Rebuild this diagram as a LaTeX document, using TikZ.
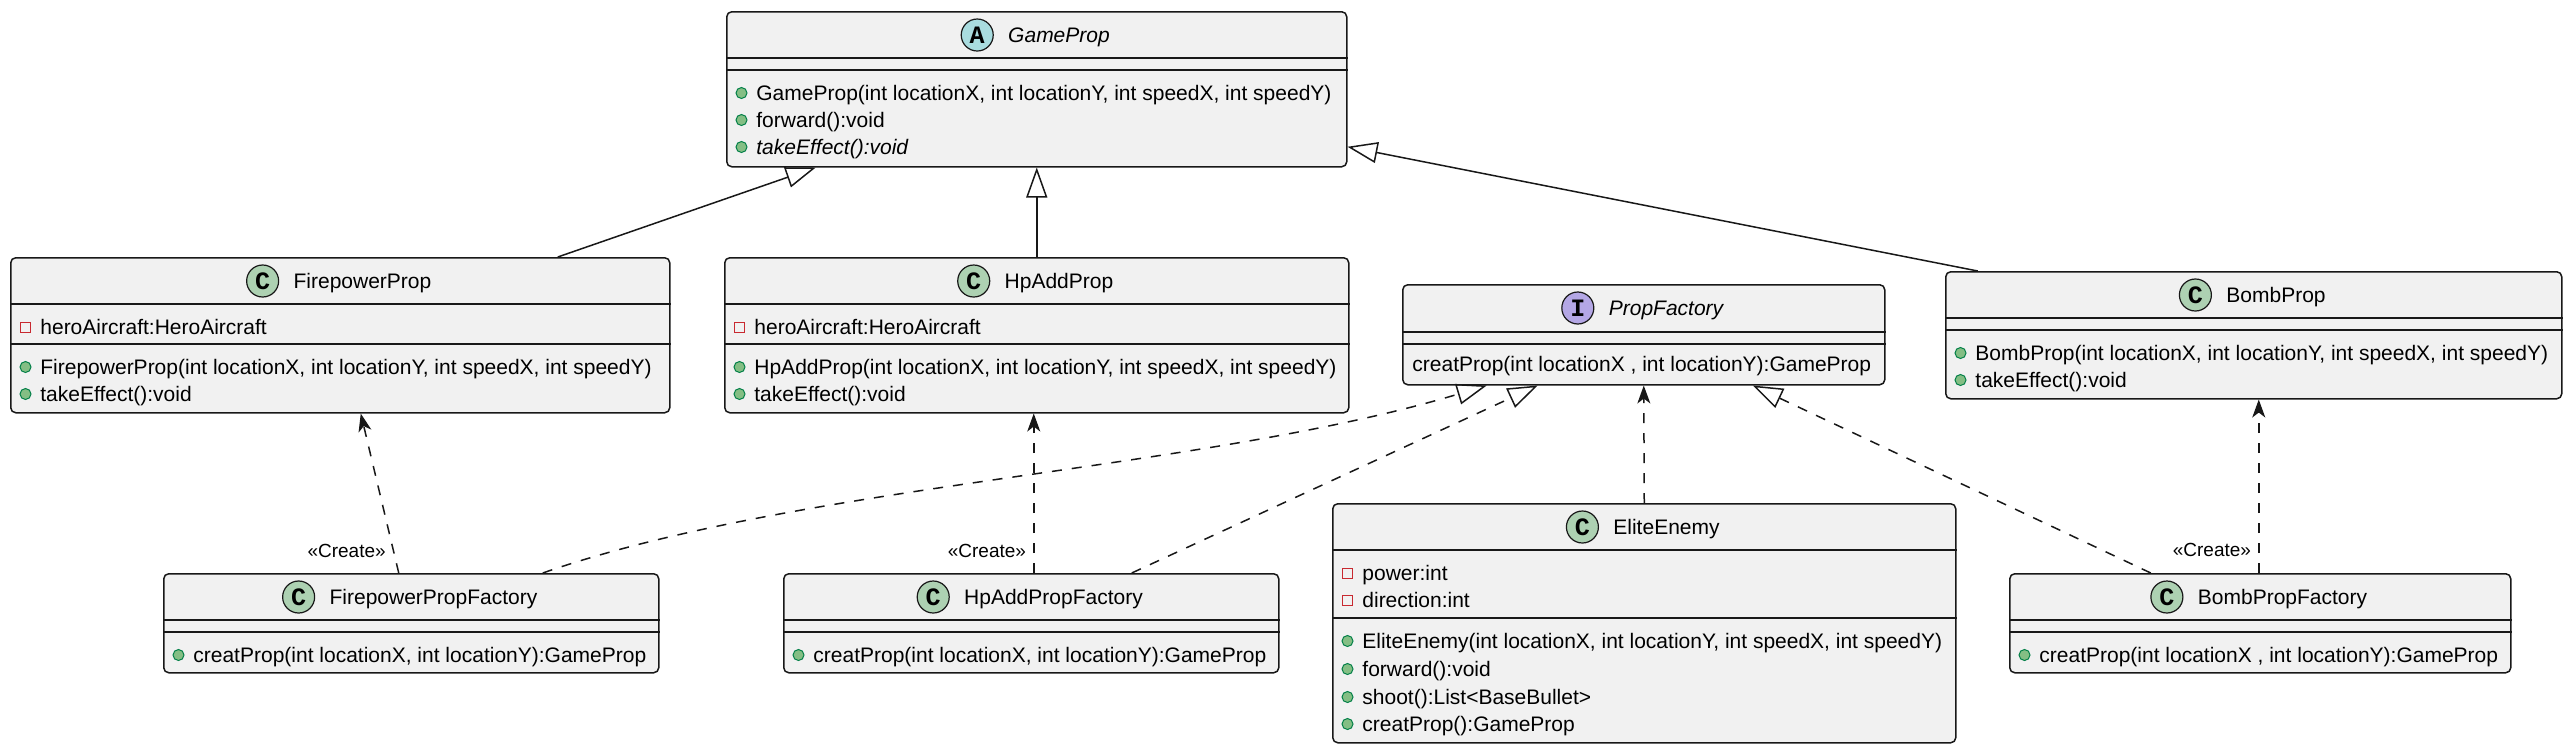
\documentclass[tikz,border=0pt]{standalone}
\usepackage{fontspec}
\setmainfont{Liberation Sans}
\newfontfamily\badgefont{Liberation Mono}
\usetikzlibrary{positioning,arrows.meta}
\definecolor{boxfill}{HTML}{F1F1F1}
\definecolor{boxline}{HTML}{181818}
\definecolor{classfill}{HTML}{ADD1B2}
\definecolor{absfill}{HTML}{A9DCDF}
\definecolor{ifacefill}{HTML}{B4A7E5}
\definecolor{privline}{HTML}{C82930}
\definecolor{publine}{HTML}{038048}
\definecolor{pubfill}{HTML}{84BE84}

\begin{document}
\begin{tikzpicture}[x=0.5pt,y=-0.5pt,
  classbox/.style={draw=boxline,fill=boxfill,line width=0.75pt,rounded corners=2.5pt,inner sep=0pt,anchor=north west},
  sepline/.style={draw=boxline,line width=0.75pt},
  title/.style={font=\fontsize{10.5}{12}\selectfont,inner sep=0pt,text height=7.5pt,text depth=0pt},
  badge/.style={circle,draw=boxline,line width=0.6pt,minimum size=16pt,inner sep=0pt,font=\badgefont\bfseries\fontsize{12.5}{13}\selectfont},
  row/.style={font=\fontsize{10.5}{12}\selectfont,inner sep=0pt,text height=7.5pt,text depth=0pt,anchor=west},
  pub/.style={circle,draw=publine,fill=pubfill,line width=0.5pt,minimum size=5.5pt,inner sep=0pt},
  priv/.style={rectangle,draw=privline,line width=0.5pt,minimum size=5pt,inner sep=0pt},
  link/.style={draw=boxline,line width=0.75pt},
  inherit/.style={link,-{Triangle[open,length=15pt,width=10.5pt]}},
  dep/.style={link,dash pattern=on 5pt off 5pt,-{Stealth[length=9pt,width=6.5pt,inset=2.5pt]}},
  realize/.style={link,dash pattern=on 5pt off 5pt,-{Triangle[open,length=15pt,width=10.5pt]}},
  create/.style={font=\fontsize{9.5}{11}\selectfont,inner sep=0pt,anchor=east,xshift=-3.5pt}]
\useasboundingbox (0,0) rectangle (2571,751);

% class boxes
\node[classbox,minimum width=310pt,minimum height=77.5pt] (gameprop) at (726,11) {};
\node[classbox,minimum width=329.5pt,minimum height=77.5pt] (firepowerprop) at (10,257) {};
\node[classbox,minimum width=312pt,minimum height=77.5pt] (hpaddprop) at (724,257) {};
\node[classbox,minimum width=241pt,minimum height=50pt] (propfactory) at (1402,284) {};
\node[classbox,minimum width=308pt,minimum height=63.5pt] (bombprop) at (1945,271) {};
\node[classbox,minimum width=247.5pt,minimum height=49.5pt] (firepowerfactory) at (163,573) {};
\node[classbox,minimum width=247.5pt,minimum height=49.5pt] (hpaddfactory) at (783,573) {};
\node[classbox,minimum width=250.5pt,minimum height=49.5pt] (bombfactory) at (2009,573) {};
\node[classbox,minimum width=311.5pt,minimum height=119.5pt] (eliteenemy) at (1332,503) {};

\draw[sepline] ([yshift=-23.5pt]gameprop.north west) -- ([yshift=-23.5pt]gameprop.north east);
\draw[sepline] ([yshift=-29.5pt]gameprop.north west) -- ([yshift=-29.5pt]gameprop.north east);
\draw[sepline] ([yshift=-23.5pt]firepowerprop.north west) -- ([yshift=-23.5pt]firepowerprop.north east);
\draw[sepline] ([yshift=-43.5pt]firepowerprop.north west) -- ([yshift=-43.5pt]firepowerprop.north east);
\draw[sepline] ([yshift=-23.5pt]hpaddprop.north west) -- ([yshift=-23.5pt]hpaddprop.north east);
\draw[sepline] ([yshift=-43.5pt]hpaddprop.north west) -- ([yshift=-43.5pt]hpaddprop.north east);
\draw[sepline] ([yshift=-24pt]propfactory.north west) -- ([yshift=-24pt]propfactory.north east);
\draw[sepline] ([yshift=-30pt]propfactory.north west) -- ([yshift=-30pt]propfactory.north east);
\draw[sepline] ([yshift=-23.5pt]bombprop.north west) -- ([yshift=-23.5pt]bombprop.north east);
\draw[sepline] ([yshift=-29.5pt]bombprop.north west) -- ([yshift=-29.5pt]bombprop.north east);
\draw[sepline] ([yshift=-23.5pt]firepowerfactory.north west) -- ([yshift=-23.5pt]firepowerfactory.north east);
\draw[sepline] ([yshift=-29.5pt]firepowerfactory.north west) -- ([yshift=-29.5pt]firepowerfactory.north east);
\draw[sepline] ([yshift=-23.5pt]hpaddfactory.north west) -- ([yshift=-23.5pt]hpaddfactory.north east);
\draw[sepline] ([yshift=-29.5pt]hpaddfactory.north west) -- ([yshift=-29.5pt]hpaddfactory.north east);
\draw[sepline] ([yshift=-23.5pt]bombfactory.north west) -- ([yshift=-23.5pt]bombfactory.north east);
\draw[sepline] ([yshift=-29.5pt]bombfactory.north west) -- ([yshift=-29.5pt]bombfactory.north east);
\draw[sepline] ([yshift=-23.5pt]eliteenemy.north west) -- ([yshift=-23.5pt]eliteenemy.north east);
\draw[sepline] ([yshift=-57.5pt]eliteenemy.north west) -- ([yshift=-57.5pt]eliteenemy.north east);

% titles
\node[title] (gp-t) at (1059,35) {\itshape GameProp};
\node[badge,fill=absfill,left=7pt of gp-t] (gp-b) {A};
\node[title] (fp-t) at (362.5,281) {FirepowerProp};
\node[badge,fill=classfill,left=7pt of fp-t] (fp-b) {C};
\node[title] (hp-t) at (1059,281) {HpAddProp};
\node[badge,fill=classfill,left=7pt of hp-t] (hp-b) {C};
\node[title] (pf-t) at (1666,308) {\itshape PropFactory};
\node[badge,fill=ifacefill,left=7pt of pf-t] (pf-b) {I};
\node[title] (bp-t) at (2276,295) {BombProp};
\node[badge,fill=classfill,left=7pt of bp-t] (bp-b) {C};
\node[title] (ff-t) at (433.5,597) {FirepowerPropFactory};
\node[badge,fill=classfill,left=7pt of ff-t] (ff-b) {C};
\node[title] (hf-t) at (1053.5,597) {HpAddPropFactory};
\node[badge,fill=classfill,left=7pt of hf-t] (hf-b) {C};
\node[title] (bf-t) at (2282.5,597) {BombPropFactory};
\node[badge,fill=classfill,left=7pt of bf-t] (bf-b) {C};
\node[title] (ee-t) at (1666.5,527) {EliteEnemy};
\node[badge,fill=classfill,left=7pt of ee-t] (ee-b) {C};

% members
\node[row] (gp-m1) at (756,93) {GameProp(int locationX, int locationY, int speedX, int speedY)};
\node[row] (gp-m2) at (756,120) {forward():void};
\node[row] (gp-m3) at (756,147) {\itshape takeEffect():void};
\node[pub,left=4.25pt of gp-m1] (gp-i1) {};
\node[pub,left=4.25pt of gp-m2] (gp-i2) {};
\node[pub,left=4.25pt of gp-m3] (gp-i3) {};

\node[row] (fp-a1) at (40,327) {heroAircraft:HeroAircraft};
\node[row] (fp-m1) at (40,367) {FirepowerProp(int locationX, int locationY, int speedX, int speedY)};
\node[row] (fp-m2) at (40,394) {takeEffect():void};
\node[priv,left=4.5pt of fp-a1] (fp-i1) {};
\node[pub,left=4.25pt of fp-m1] (fp-i2) {};
\node[pub,left=4.25pt of fp-m2] (fp-i3) {};

\node[row] (hp-a1) at (754,327) {heroAircraft:HeroAircraft};
\node[row] (hp-m1) at (754,367) {HpAddProp(int locationX, int locationY, int speedX, int speedY)};
\node[row] (hp-m2) at (754,394) {takeEffect():void};
\node[priv,left=4.5pt of hp-a1] (hp-i1) {};
\node[pub,left=4.25pt of hp-m1] (hp-i2) {};
\node[pub,left=4.25pt of hp-m2] (hp-i3) {};

\node[row] (pf-m1) at (1412,364) {creatProp(int locationX , int locationY):GameProp};

\node[row] (bp-m1) at (1975,353) {BombProp(int locationX, int locationY, int speedX, int speedY)};
\node[row] (bp-m2) at (1975,380) {takeEffect():void};
\node[pub,left=4.25pt of bp-m1] (bp-i1) {};
\node[pub,left=4.25pt of bp-m2] (bp-i2) {};

\node[row] (ff-m1) at (193,655) {creatProp(int locationX, int locationY):GameProp};
\node[pub,left=4.25pt of ff-m1] (ff-i1) {};
\node[row] (hf-m1) at (813,655) {creatProp(int locationX, int locationY):GameProp};
\node[pub,left=4.25pt of hf-m1] (hf-i1) {};
\node[row] (bf-m1) at (2039,655) {creatProp(int locationX , int locationY):GameProp};
\node[pub,left=4.25pt of bf-m1] (bf-i1) {};

\node[row] (ee-a1) at (1362,573) {power:int};
\node[row] (ee-a2) at (1362,600) {direction:int};
\node[row] (ee-m1) at (1362,641) {EliteEnemy(int locationX, int locationY, int speedX, int speedY)};
\node[row] (ee-m2) at (1362,669) {forward():void};
\node[row] (ee-m3) at (1362,697) {shoot():List<BaseBullet>};
\node[row] (ee-m4) at (1362,724) {creatProp():GameProp};
\node[priv,left=4.5pt of ee-a1] (ee-i1) {};
\node[priv,left=4.5pt of ee-a2] (ee-i2) {};
\node[pub,left=4.25pt of ee-m1] (ee-i3) {};
\node[pub,left=4.25pt of ee-m2] (ee-i4) {};
\node[pub,left=4.25pt of ee-m3] (ee-i5) {};
\node[pub,left=4.25pt of ee-m4] (ee-i6) {};

% generalisation
\draw[inherit] ([xshift=108.75pt]firepowerprop.north) -- ([xshift=-110.5pt]gameprop.south);
\draw[inherit] (hpaddprop.north) -- (gameprop.south);
\draw[inherit] ([xshift=-138pt]bombprop.north) -- ([yshift=-28.75pt]gameprop.east);

% factories
\draw[dep] ([xshift=-6.25pt]firepowerfactory.north) -- node[create,pos=0.14] (fc-l) {«Create»} ([xshift=10.25pt]firepowerprop.south);
\draw[dep] ([xshift=1.25pt]hpaddfactory.north) -- node[create,pos=0.14] (hc-l) {«Create»} ([xshift=-1.5pt]hpaddprop.south);
\draw[dep] ([xshift=-0.75pt]bombfactory.north) -- node[create,pos=0.13] (bc-l) {«Create»} ([xshift=2.5pt]bombprop.south);
\draw[dep] (eliteenemy.north) -- (propfactory.south);

\draw[realize] ([xshift=65.75pt]firepowerfactory.north) .. controls +(258,-90) and +(-286,86) .. ([xshift=-78.5pt]propfactory.south);
\draw[realize] ([xshift=50.25pt]hpaddfactory.north) -- ([xshift=-53pt]propfactory.south);
\draw[realize] ([xshift=-54.75pt]bombfactory.north) -- ([xshift=54.5pt]propfactory.south);

\end{tikzpicture}
\end{document}
